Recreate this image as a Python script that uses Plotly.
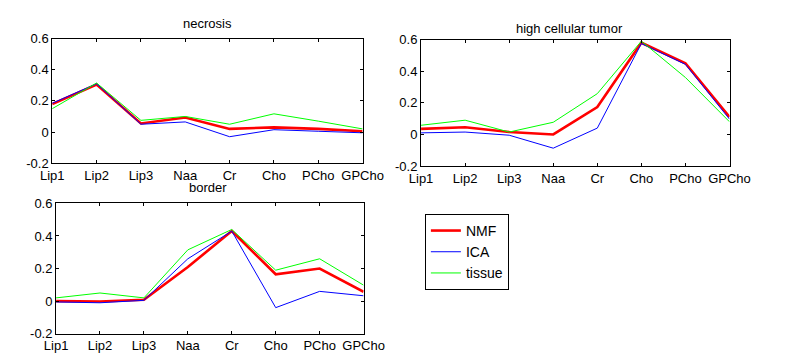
import plotly.graph_objects as go

labels = ["Lip1", "Lip2", "Lip3", "Naa", "Cr", "Cho", "PCho", "GPCho"]
yticks = [-0.2, 0, 0.2, 0.4, 0.6]
ytick_text = ["-0.2", "0", "0.2", "0.4", "0.6"]

necrosis_nmf = [0.18, 0.305, 0.055, 0.093, 0.02, 0.03, 0.02, 0.005]
necrosis_ica = [0.185, 0.31, 0.05, 0.065, -0.03, 0.015, 0.005, -0.005]
necrosis_tissue = [0.15, 0.315, 0.075, 0.10, 0.05, 0.117, 0.07, 0.02]

tumor_nmf = [0.035, 0.045, 0.015, 0.0, 0.173, 0.58, 0.45, 0.11]
tumor_ica = [0.01, 0.015, -0.005, -0.087, 0.04, 0.575, 0.443, 0.097]
tumor_tissue = [0.058, 0.09, 0.015, 0.077, 0.258, 0.59, 0.36, 0.08]

border_nmf = [0.0, -0.002, 0.008, 0.21, 0.43, 0.165, 0.2, 0.057]
border_ica = [-0.005, -0.01, 0.005, 0.26, 0.43, -0.04, 0.06, 0.033]
border_tissue = [0.02, 0.05, 0.02, 0.315, 0.44, 0.19, 0.26, 0.098]

titles = ["necrosis", "high cellular tumor", "border"]
panels = [
    (necrosis_nmf, necrosis_ica, necrosis_tissue),
    (tumor_nmf, tumor_ica, tumor_tissue),
    (border_nmf, border_ica, border_tissue),
]

W, H = 785, 358
# pixel boxes: (left, right, top, bottom)
boxes = [(42, 366, 33, 163), (427, 749, 34, 166), (46, 367, 205, 341)]
title_pos = [(204, 17), (582, 22), (205, 188)]

FONT = "Liberation Sans, Arial, sans-serif"
xs = list(range(len(labels)))

fig = go.Figure()
styles = [("NMF", "#ff0000", 2.6), ("ICA", "#0000ff", 1), ("tissue", "#00ff00", 1)]
for i, data in enumerate(panels):
    sfx = "" if i == 0 else str(i + 1)
    for j, (name, col, lw) in enumerate(styles):
        fig.add_trace(go.Scatter(
            x=xs, y=data[j], mode="lines", name=name,
            line=dict(color=col, width=lw),
            xaxis="x" + sfx, yaxis="y" + sfx,
            showlegend=(i == 0), legendrank=j,
        ))

layout = dict(
    width=W, height=H, margin=dict(l=0, r=0, t=0, b=0),
    paper_bgcolor="white", plot_bgcolor="white",
    font=dict(family=FONT, size=13, color="black"),
    showlegend=True,
    legend=dict(
        x=431 / W, y=1 - 216 / H, xanchor="left", yanchor="top",
        bordercolor="black", borderwidth=1, bgcolor="white",
        font=dict(family=FONT, size=14, color="black"),
        traceorder="normal",
    ),
)
annotations = []
for i, (l, r, t, b) in enumerate(boxes):
    sfx = "" if i == 0 else str(i + 1)
    layout["xaxis" + sfx] = dict(
        domain=[l / W, r / W], range=[0, 7], anchor="y" + sfx,
        tickmode="array", tickvals=xs, ticktext=labels,
        ticks="inside", ticklen=3, tickcolor="black",
        showline=True, linecolor="black", linewidth=1, mirror="allticks",
        showgrid=False, zeroline=False,
        tickfont=dict(family=FONT, size=13, color="black"),
        fixedrange=True,
    )
    layout["yaxis" + sfx] = dict(
        domain=[1 - b / H, 1 - t / H], range=[-0.2, 0.6], anchor="x" + sfx,
        tickmode="array", tickvals=yticks, ticktext=ytick_text,
        ticks="inside", ticklen=3, tickcolor="black",
        showline=True, linecolor="black", linewidth=1, mirror="allticks",
        showgrid=False, zeroline=False,
        tickfont=dict(family=FONT, size=13, color="black"),
        fixedrange=True,
    )
    tx, ty = title_pos[i]
    annotations.append(dict(
        text=titles[i], x=tx / W, y=1 - ty / H, xref="paper", yref="paper",
        showarrow=False, xanchor="center", yanchor="middle",
        font=dict(family=FONT, size=13, color="black"),
    ))
layout["annotations"] = annotations
fig.update_layout(**layout)
fig.write_html(
    "out.html",
    config={"displayModeBar": False, "staticPlot": True},
    post_script="document.body.style.margin='0';document.body.style.overflow='hidden';",
)
